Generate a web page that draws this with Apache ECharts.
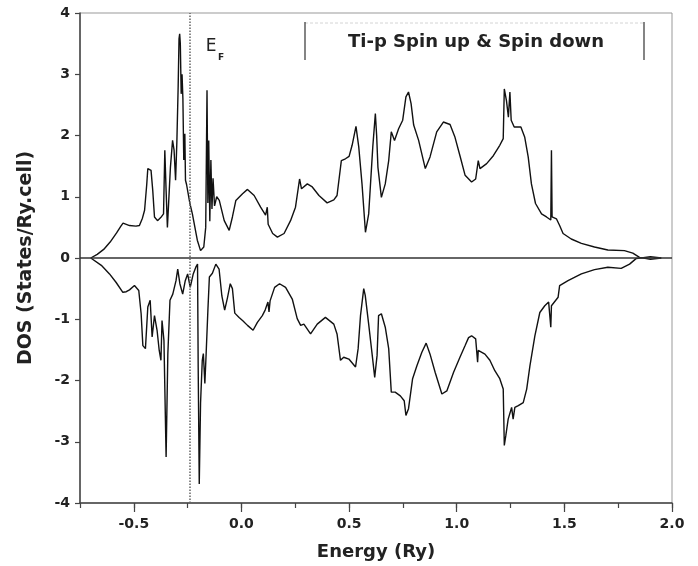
<!DOCTYPE html>
<html>
<head>
<meta charset="utf-8">
<script src="https://cdn.jsdelivr.net/npm/echarts@6/dist/echarts.min.js"></script>
<style>
  html, body { margin: 0; padding: 0; background: #fff; }
  #main { width: 698px; height: 566px; }
</style>
</head>
<body>
<div id="main"></div>
<script>
// Ti-p DOS, spin up (positive) and spin down (negative)
var upEnergy = [-0.70, -0.67, -0.64, -0.61, -0.58, -0.56, -0.55, -0.535, -0.52, -0.49, -0.474, -0.46, -0.45, -0.44, -0.435,
  -0.42, -0.412, -0.404, -0.39, -0.375, -0.362, -0.356, -0.35, -0.344, -0.338, -0.33, -0.32, -0.313, -0.306, -0.30,
  -0.294, -0.29, -0.287, -0.284, -0.28, -0.276, -0.272, -0.268, -0.263, -0.26, -0.255, -0.24, -0.228, -0.205, -0.19,
  -0.175, -0.166, -0.16, -0.156, -0.152, -0.147, -0.142, -0.137, -0.132, -0.125, -0.115, -0.103, -0.08, -0.057, -0.042,
  -0.026, 0.005, 0.028, 0.059, 0.089, 0.112, 0.12, 0.124, 0.145, 0.167, 0.198, 0.228, 0.251, 0.27, 0.279,
  0.306, 0.329, 0.36, 0.398, 0.429, 0.444, 0.464, 0.483, 0.50, 0.514, 0.532, 0.545, 0.56, 0.576, 0.591,
  0.61, 0.622, 0.628, 0.634, 0.65, 0.668, 0.684, 0.696, 0.711, 0.73, 0.749, 0.764, 0.776, 0.788, 0.80,
  0.823, 0.854, 0.876, 0.907, 0.938, 0.969, 0.992, 1.015, 1.039, 1.069, 1.088, 1.10, 1.108, 1.139, 1.17,
  1.20, 1.216, 1.221, 1.231, 1.24, 1.247, 1.253, 1.267, 1.298, 1.316, 1.332, 1.347, 1.366, 1.394, 1.417,
  1.437, 1.44, 1.443, 1.463, 1.478, 1.494, 1.532, 1.579, 1.64, 1.702, 1.779, 1.818, 1.849, 1.90, 1.95];
var upDos = [0.0, 0.06, 0.14, 0.26, 0.41, 0.52, 0.57, 0.55, 0.53, 0.52, 0.53, 0.65, 0.78, 1.20, 1.46,
  1.43, 1.10, 0.67, 0.61, 0.66, 0.72, 1.76, 1.10, 0.50, 0.50, 1.48, 1.92, 1.76, 1.27, 1.90,
  2.80, 3.58, 3.66, 3.50, 2.68, 3.00, 2.60, 1.60, 2.03, 1.27, 1.20, 0.90, 0.72, 0.29, 0.12,
  0.18, 0.50, 2.74, 0.90, 1.92, 0.60, 1.60, 0.80, 1.30, 0.85, 1.00, 0.94, 0.61, 0.45, 0.67,
  0.94, 1.05, 1.12, 1.02, 0.83, 0.70, 0.83, 0.55, 0.40, 0.34, 0.40, 0.61, 0.83, 1.29, 1.13,
  1.21, 1.16, 1.02, 0.90, 0.95, 1.02, 1.59, 1.62, 1.66, 1.84, 2.15, 1.81, 1.21, 0.42, 0.72,
  1.81, 2.36, 2.00, 1.48, 0.99, 1.21, 1.59, 2.06, 1.92, 2.11, 2.25, 2.63, 2.71, 2.52, 2.17,
  1.92, 1.46, 1.65, 2.06, 2.22, 2.18, 1.97, 1.67, 1.35, 1.24, 1.29, 1.59, 1.46, 1.54, 1.67,
  1.84, 1.95, 2.76, 2.57, 2.30, 2.71, 2.25, 2.14, 2.14, 1.97, 1.65, 1.21, 0.89, 0.72, 0.67,
  0.62, 1.76, 0.67, 0.64, 0.53, 0.40, 0.31, 0.24, 0.18, 0.13, 0.12, 0.08, 0.01, -0.02, 0.0];

var downEnergy = [-0.70, -0.651, -0.613, -0.582, -0.551, -0.535, -0.52, -0.497, -0.477, -0.466, -0.458, -0.446, -0.435, -0.424, -0.415,
  -0.404, -0.392, -0.382, -0.374, -0.369, -0.36, -0.35, -0.342, -0.332, -0.319, -0.304, -0.296, -0.286, -0.273, -0.261,
  -0.25, -0.238, -0.224, -0.212, -0.204, -0.201, -0.196, -0.19, -0.182, -0.177, -0.17, -0.164, -0.156, -0.149, -0.135,
  -0.119, -0.104, -0.091, -0.078, -0.065, -0.052, -0.042, -0.031, -0.011, 0.005, 0.028, 0.054, 0.074, 0.097, 0.11,
  0.123, 0.128, 0.133, 0.154, 0.177, 0.205, 0.236, 0.259, 0.275, 0.29, 0.321, 0.352, 0.39, 0.429, 0.444,
  0.46, 0.475, 0.499, 0.53, 0.542, 0.553, 0.568, 0.575, 0.59, 0.606, 0.619, 0.63, 0.637, 0.65, 0.668,
  0.684, 0.696, 0.714, 0.738, 0.756, 0.764, 0.776, 0.795, 0.815, 0.838, 0.858, 0.876, 0.90, 0.931, 0.954,
  0.985, 1.015, 1.039, 1.055, 1.069, 1.088, 1.097, 1.10, 1.131, 1.154, 1.177, 1.20, 1.216, 1.221, 1.228,
  1.239, 1.255, 1.262, 1.27, 1.286, 1.309, 1.325, 1.34, 1.363, 1.386, 1.409, 1.427, 1.437, 1.44, 1.471,
  1.478, 1.517, 1.579, 1.64, 1.702, 1.764, 1.803, 1.833, 1.90, 1.95];
var downDos = [0.0, -0.12, -0.26, -0.40, -0.56, -0.55, -0.52, -0.45, -0.53, -0.91, -1.43, -1.48, -0.80, -0.69, -1.29,
  -0.94, -1.18, -1.51, -1.67, -1.02, -1.35, -3.25, -1.57, -0.69, -0.59, -0.37, -0.18, -0.42, -0.59, -0.37,
  -0.26, -0.48, -0.26, -0.15, -0.10, -1.78, -3.69, -2.37, -1.67, -1.56, -2.05, -1.56, -0.86, -0.31, -0.25,
  -0.10, -0.18, -0.62, -0.85, -0.65, -0.42, -0.50, -0.90, -0.97, -1.02, -1.10, -1.18, -1.05, -0.94, -0.85,
  -0.72, -0.88, -0.70, -0.48, -0.42, -0.48, -0.67, -0.99, -1.10, -1.08, -1.24, -1.08, -0.97, -1.08, -1.24,
  -1.67, -1.62, -1.65, -1.78, -1.48, -0.94, -0.50, -0.61, -1.05, -1.54, -1.95, -1.59, -0.94, -0.91, -1.13,
  -1.48, -2.19, -2.19, -2.25, -2.33, -2.57, -2.46, -1.97, -1.76, -1.54, -1.39, -1.57, -1.87, -2.22, -2.17,
  -1.87, -1.62, -1.43, -1.30, -1.27, -1.32, -1.70, -1.51, -1.57, -1.67, -1.84, -1.97, -2.14, -3.06, -2.90,
  -2.63, -2.44, -2.63, -2.44, -2.41, -2.36, -2.14, -1.76, -1.27, -0.89, -0.78, -0.72, -1.13, -0.78, -0.64,
  -0.45, -0.37, -0.26, -0.19, -0.15, -0.17, -0.10, -0.01, 0.02, 0.0];

var fermiEnergy = -0.242;
var xMajorTicks = [-0.5, 0, 0.5, 1.0, 1.5, 2.0];

function zip(xs, ys) {
  var out = [];
  for (var i = 0; i < xs.length; i++) out.push([xs[i], ys[i]]);
  return out;
}

var chart = echarts.init(document.getElementById('main'), null, { renderer: 'canvas' });
var tickFont = { fontFamily: 'DejaVu Sans', fontWeight: 'bold', fontSize: 14, color: '#222' };

var option = {
  animation: false,
  backgroundColor: '#fff',
  grid: {
    left: 80, right: 26, top: 13, bottom: 63,
    show: true, borderColor: '#999', borderWidth: 1
  },
  xAxis: [{
    type: 'value',
    min: -0.75, max: 2.0, interval: 0.25,
    splitLine: { show: false },
    axisLine: { onZero: false, lineStyle: { color: '#444', width: 1.5 } },
    axisTick: { length: 5, lineStyle: { color: '#444', width: 1.2 } },
    axisLabel: Object.assign({
      margin: 14,
      formatter: function (v) {
        return Math.abs(v * 2 - Math.round(v * 2)) < 1e-6 ? v.toFixed(1) : '';
      }
    }, tickFont),
    name: 'Energy (Ry)',
    nameLocation: 'middle',
    nameGap: 40,
    nameTextStyle: { fontFamily: 'DejaVu Sans', fontWeight: 'bold', fontSize: 18, color: '#222' }
  }, {
    // longer ticks on the labelled values
    type: 'value',
    position: 'bottom',
    min: -0.75, max: 2.0, interval: 0.25,
    splitLine: { show: false },
    axisLine: { show: false, onZero: false },
    axisLabel: { show: false },
    axisTick: { length: 9, customValues: xMajorTicks, lineStyle: { color: '#444', width: 1.2 } }
  }],
  yAxis: {
    type: 'value',
    min: -4, max: 4, interval: 1,
    splitLine: { show: false },
    axisLine: { onZero: false, lineStyle: { color: '#444', width: 1.5 } },
    axisTick: { length: 5, lineStyle: { color: '#444', width: 1.2 } },
    axisLabel: Object.assign({ margin: 10 }, tickFont),
    name: 'DOS (States/Ry.cell)',
    nameLocation: 'middle',
    nameGap: 44,
    nameTextStyle: { fontFamily: 'DejaVu Sans', fontWeight: 'bold', fontSize: 19, color: '#222' }
  },
  series: [{
    name: 'Spin up',
    type: 'line',
    symbol: 'none',
    lineStyle: { color: '#111', width: 1.4 },
    data: zip(upEnergy, upDos),
    z: 3,
    markLine: {
      silent: true,
      symbol: 'none',
      label: { show: false },
      data: [
        { yAxis: 0, lineStyle: { color: '#333', width: 1.6, type: 'solid' } },
        { xAxis: fermiEnergy, lineStyle: { color: '#666', width: 1.5, type: 'dotted' } }
      ]
    }
  }, {
    name: 'Spin down',
    type: 'line',
    symbol: 'none',
    lineStyle: { color: '#111', width: 1.4 },
    data: zip(downEnergy, downDos),
    z: 3
  }],
  graphic: [
    { type: 'line', shape: { x1: 305, y1: 23, x2: 644, y2: 23 }, style: { stroke: '#d4d4d4', lineWidth: 1, lineDash: [3, 2] } },
    { type: 'line', shape: { x1: 305, y1: 22, x2: 305, y2: 60 }, style: { stroke: '#333', lineWidth: 1.2 } },
    { type: 'line', shape: { x1: 644, y1: 22, x2: 644, y2: 60 }, style: { stroke: '#333', lineWidth: 1.2 } },
    {
      type: 'text', x: 476, y: 42,
      style: { text: 'Ti-p Spin up & Spin down', fill: '#222', font: 'bold 18px "DejaVu Sans"', textAlign: 'center', textVerticalAlign: 'middle' }
    },
    {
      type: 'text', x: 211, y: 47,
      style: { text: 'E', fill: '#222', font: '17px "DejaVu Sans"', textAlign: 'center', textVerticalAlign: 'middle' }
    },
    {
      type: 'text', x: 221, y: 58,
      style: { text: 'F', fill: '#222', font: 'bold 9px "DejaVu Sans"', textAlign: 'center', textVerticalAlign: 'middle' }
    }
  ]
};
chart.setOption(option);
</script>
</body>
</html>
